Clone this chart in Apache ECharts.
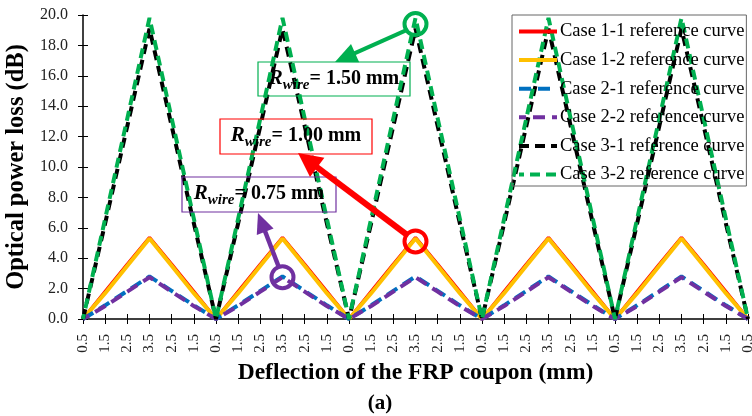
<!DOCTYPE html>
<html>
<head>
<meta charset="utf-8">
<script src="https://cdn.jsdelivr.net/npm/echarts@6/dist/echarts.min.js"></script>
<style>
  html, body { margin: 0; padding: 0; background: #fff; }
  #chart { width: 752px; height: 416px; }
</style>
</head>
<body>
<div id="chart"></div>
<script>
var FONT = '"Liberation Serif", "Times New Roman", serif';

// deflection labels (mm), 5 load/unload cycles
var deflection = ['0.5', '1.5', '2.5', '3.5', '2.5', '1.5',
                  '0.5', '1.5', '2.5', '3.5', '2.5', '1.5',
                  '0.5', '1.5', '2.5', '3.5', '2.5', '1.5',
                  '0.5', '1.5', '2.5', '3.5', '2.5', '1.5',
                  '0.5', '1.5', '2.5', '3.5', '2.5', '1.5',
                  '0.5'];

// optical power loss (dB)
var case11 = [0, 1.8, 3.6, 5.35, 3.6, 1.8, 0, 1.8, 3.6, 5.35, 3.6, 1.8, 0, 1.8, 3.6, 5.35, 3.6, 1.8,
              0, 1.8, 3.6, 5.35, 3.6, 1.8, 0, 1.8, 3.6, 5.35, 3.6, 1.8, 0];
var case12 = [0, 1.7, 3.5, 5.3, 3.5, 1.7, 0, 1.7, 3.5, 5.3, 3.5, 1.7, 0, 1.7, 3.5, 5.3, 3.5, 1.7,
              0, 1.7, 3.5, 5.3, 3.5, 1.7, 0, 1.7, 3.5, 5.3, 3.5, 1.7, 0];
var case21 = [0, 0.9, 1.85, 2.8, 1.85, 0.9, 0, 0.9, 1.85, 2.8, 1.85, 0.9, 0, 0.9, 1.85, 2.8, 1.85, 0.9,
              0, 0.9, 1.85, 2.8, 1.85, 0.9, 0, 0.9, 1.85, 2.8, 1.85, 0.9, 0];
var case22 = [0, 0.85, 1.8, 2.75, 1.8, 0.85, 0, 0.85, 1.8, 2.75, 1.8, 0.85, 0, 0.85, 1.8, 2.75, 1.8, 0.85,
              0, 0.85, 1.8, 2.75, 1.8, 0.85, 0, 0.85, 1.8, 2.75, 1.8, 0.85, 0];
var case31 = [0, 6.3, 12.7, 19.1, 12.7, 6.3, 0, 6.3, 12.7, 19.1, 12.7, 6.3, 0, 6.3, 12.7, 19.1, 12.7, 6.3,
              0, 6.3, 12.7, 19.1, 12.7, 6.3, 0, 6.3, 12.7, 19.1, 12.7, 6.3, 0];
var case32 = [0, 6.6, 13.2, 19.8, 13.2, 6.6, 0, 6.6, 13.2, 19.8, 13.2, 6.6, 0, 6.6, 13.2, 19.8, 13.2, 6.6,
              0, 6.6, 13.2, 19.8, 13.2, 6.6, 0, 6.6, 13.2, 19.8, 13.2, 6.6, 0];

var yTicks = { min: 0, max: 20, interval: 2 };

function lineSeries(name, data, color, width, dash, offset) {
  return {
    name: name,
    type: 'line',
    data: data,
    symbol: 'none',
    xAxisIndex: 0,
    yAxisIndex: 0,
    lineStyle: { color: color, width: width, type: dash || 'solid', dashOffset: offset || 0, cap: 'butt' },
    itemStyle: { color: color },
    animation: false
  };
}

var chart = echarts.init(document.getElementById('chart'));

var option = {
  backgroundColor: '#fff',
  animation: false,
  grid: { left: 83, right: 4, top: 15, bottom: 97, containLabel: false, outerBoundsMode: 'none' },
  legend: {
    left: 512,
    top: 15,
    orient: 'vertical',
    itemWidth: 38,
    itemHeight: 17,
    itemGap: 9.6,
    padding: [7, 2, 2, 5],
    borderColor: '#666',
    borderWidth: 1,
    backgroundColor: 'transparent',
    itemStyle: { opacity: 0 },
    lineStyle: { width: 4 },
    textStyle: { fontFamily: FONT, fontSize: 18.5, color: '#000', lineHeight: 17, padding: [0, 0, 0, -2] }
  },
  xAxis: [
    {
      type: 'category',
      data: deflection,
      boundaryGap: false,
      position: 'bottom',
      axisLine: { lineStyle: { color: '#000', width: 1.5 } },
      axisTick: { show: true, interval: 0, length: 5, lineStyle: { color: '#000', width: 1 } },
      axisLabel: { interval: 0, rotate: 90, margin: 15, fontFamily: FONT, fontSize: 15, color: '#222' },
      splitLine: { show: false },
      name: 'Deflection of the FRP coupon (mm)',
      nameLocation: 'middle',
      nameGap: 37,
      nameTextStyle: { fontFamily: FONT, fontSize: 23.5, fontWeight: 'bold', color: '#000' }
    },
    {
      type: 'category',
      data: deflection,
      boundaryGap: false,
      position: 'bottom',
      axisLine: { show: false },
      axisTick: { show: true, inside: true, interval: 0, length: 5, lineStyle: { color: '#000', width: 1 } },
      axisLabel: { show: false },
      splitLine: { show: false }
    }
  ],
  yAxis: [
    {
      type: 'value',
      min: yTicks.min,
      max: yTicks.max,
      interval: yTicks.interval,
      position: 'left',
      axisLine: { show: true, lineStyle: { color: '#000', width: 1.5 } },
      axisTick: { show: true, length: 5, lineStyle: { color: '#000', width: 1 } },
      axisLabel: {
        margin: 15, fontFamily: FONT, fontSize: 16, color: '#222',
        formatter: function (v) { return v.toFixed(1); }
      },
      splitLine: { show: false },
      name: 'Optical power loss (dB)',
      nameLocation: 'middle',
      nameGap: 48,
      nameTextStyle: { fontFamily: FONT, fontSize: 24.5, fontWeight: 'bold', color: '#000' }
    },
    {
      type: 'value',
      min: yTicks.min,
      max: yTicks.max,
      interval: yTicks.interval,
      position: 'left',
      axisLine: { show: false },
      axisTick: { show: true, inside: true, length: 5, lineStyle: { color: '#000', width: 1 } },
      axisLabel: { show: false },
      splitLine: { show: false }
    }
  ],
  series: [
    lineSeries('Case 1-1 reference curve', case11, '#ff0000', 3.5),
    lineSeries('Case 1-2 reference curve', case12, '#ffc000', 4),
    lineSeries('Case 2-1 reference curve', case21, '#0070c0', 4, [12, 7], 0),
    lineSeries('Case 2-2 reference curve', case22, '#7030a0', 4, [12, 7], 5),
    lineSeries('Case 3-1 reference curve', case31, '#000000', 4, [10, 6], 0),
    lineSeries('Case 3-2 reference curve', case32, '#00b050', 4, [10, 6], 5)
  ]
};

chart.setOption(option);

// ---- annotations: circle on a point, arrow to a labelled box ----
function rwireText(x, y, value) {
  return {
    type: 'text',
    z: 100,
    style: {
      x: x, y: y,
      text: '{r|R}{s|wire}{t|= ' + value + ' mm}',
      align: 'center',
      verticalAlign: 'middle',
      fill: '#000',
      rich: {
        r: { fontFamily: FONT, fontSize: 21, fontStyle: 'italic', fontWeight: 'bold', lineHeight: 28, verticalAlign: 'middle' },
        s: { fontFamily: FONT, fontSize: 15, fontStyle: 'italic', fontWeight: 'bold', verticalAlign: 'bottom' },
        t: { fontFamily: FONT, fontSize: 20, fontWeight: 'bold', verticalAlign: 'middle' }
      }
    }
  };
}

function box(x, y, w, h, color) {
  return {
    type: 'rect', z: 99,
    shape: { x: x, y: y, width: w, height: h },
    style: { fill: 'none', stroke: color, lineWidth: 1.2 }
  };
}

function arrow(from, to, color, width, headLen, headHalf) {
  var dx = to[0] - from[0], dy = to[1] - from[1];
  var len = Math.sqrt(dx * dx + dy * dy);
  var ux = dx / len, uy = dy / len;
  var bx = to[0] - ux * headLen, by = to[1] - uy * headLen;
  return [
    {
      type: 'line', z: 101,
      shape: { x1: from[0], y1: from[1], x2: bx + ux * 2, y2: by + uy * 2 },
      style: { stroke: color, lineWidth: width }
    },
    {
      type: 'polygon', z: 101,
      shape: { points: [to, [bx - uy * headHalf, by + ux * headHalf], [bx + uy * headHalf, by - ux * headHalf]] },
      style: { fill: color }
    }
  ];
}

function ring(c, color) {
  return {
    type: 'circle', z: 102,
    shape: { cx: c[0], cy: c[1], r: 11 },
    style: { fill: 'none', stroke: color, lineWidth: 4 }
  };
}

var pGreen = chart.convertToPixel({ xAxisIndex: 0, yAxisIndex: 0 }, [15, 19.4]);
var pRed = chart.convertToPixel({ xAxisIndex: 0, yAxisIndex: 0 }, [15, 5.1]);
var pPurple = chart.convertToPixel({ xAxisIndex: 0, yAxisIndex: 0 }, [9, 2.75]);

var g = [];
g.push(box(258, 62, 152, 34, '#00b050'), rwireText(334, 79, '1.50'));
g.push(box(220, 119, 152, 35, '#ff0000'), rwireText(296, 136, '1.00'));
g.push(box(182, 177, 154, 35, '#7030a0'), rwireText(259, 194, '0.75'));
g = g.concat(arrow([pGreen[0] - 9, pGreen[1] + 6], [335, 62], '#00b050', 4, 22, 10));
g = g.concat(arrow([pRed[0] - 9, pRed[1] - 7], [298, 153], '#ff0000', 6, 24, 12));
g = g.concat(arrow([pPurple[0] - 4, pPurple[1] - 11], [258, 213], '#7030a0', 4.5, 20, 9));
g.push(ring(pGreen, '#00b050'), ring(pRed, '#ff0000'), ring(pPurple, '#7030a0'));
g.push({
  type: 'text', z: 100,
  style: { x: 380, y: 404, text: '(a)', align: 'center', verticalAlign: 'middle',
           fontFamily: FONT, fontSize: 21, fontWeight: 'bold', fill: '#000' }
});

chart.setOption({ graphic: g });
</script>
</body>
</html>
